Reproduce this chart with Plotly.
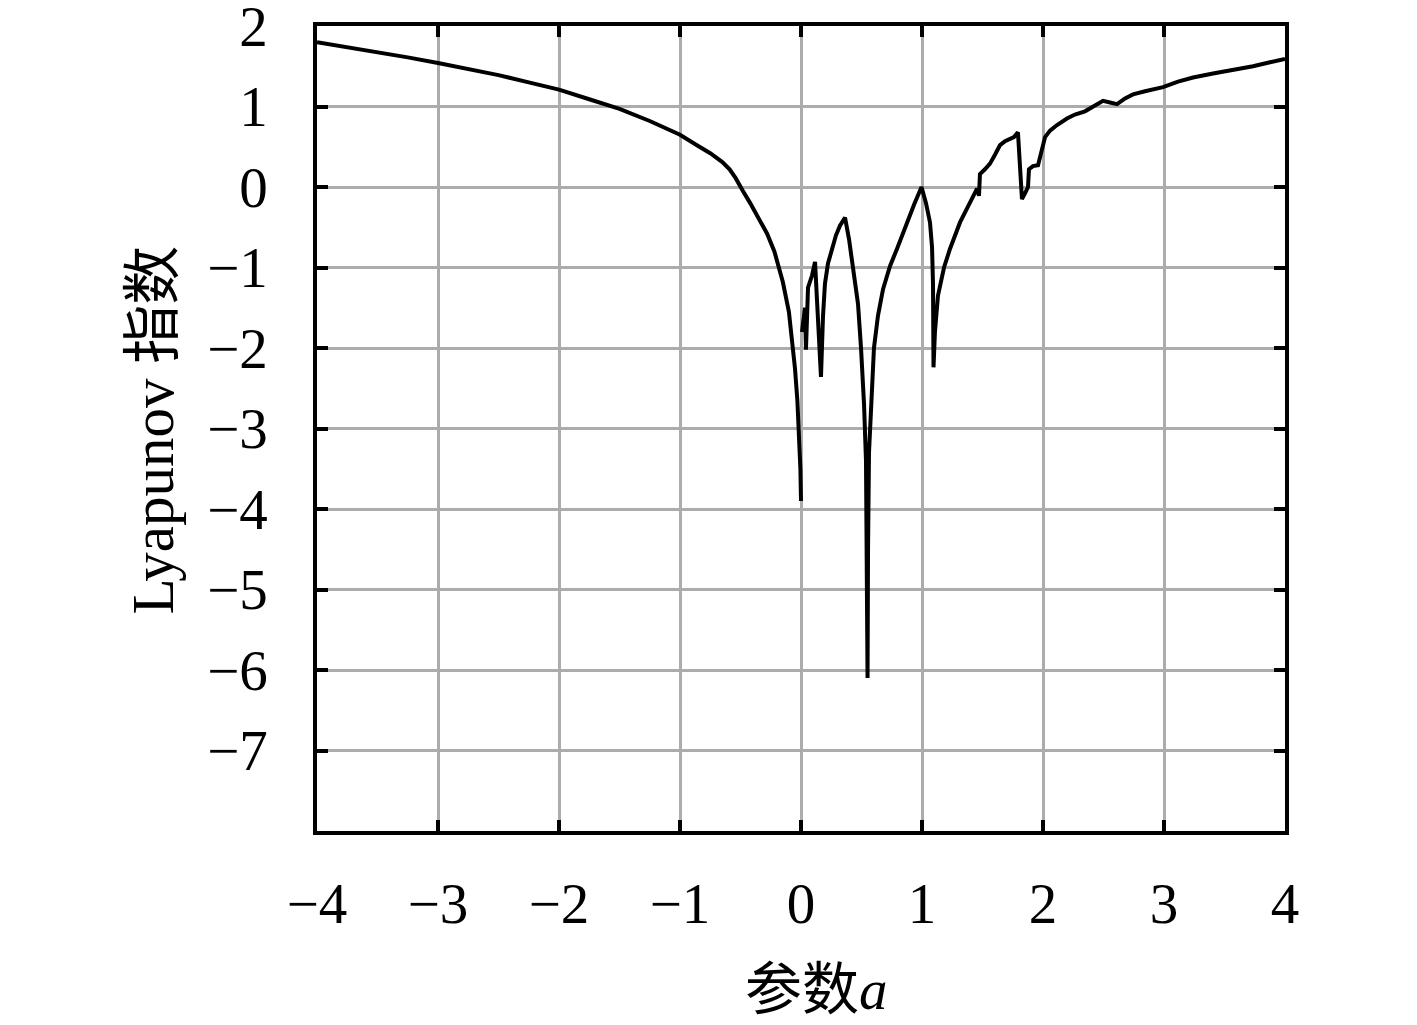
import plotly.graph_objects as go

# Branch 1: a in [-4, 0]
a1 = [-4.0, -3.75, -3.5, -3.25, -3.0, -2.75, -2.5, -2.25, -2.0, -1.75, -1.5, -1.25,
      -1.0, -0.85, -0.75, -0.65, -0.59, -0.54, -0.52, -0.50, -0.48, -0.42, -0.35,
      -0.28, -0.22, -0.15, -0.10, -0.07, -0.05, -0.03, -0.015, -0.005, 0.0]
l1 = [1.80, 1.74, 1.67, 1.61, 1.54, 1.47, 1.39, 1.30, 1.21, 1.09, 0.97, 0.82,
      0.65, 0.51, 0.42, 0.31, 0.22, 0.11, 0.05, 0.01, -0.05, -0.20, -0.38,
      -0.58, -0.80, -1.18, -1.55, -1.95, -2.25, -2.65, -3.1, -3.5, -3.9]

# Branch 2: a in (0, 4]
a2 = [0.008, 0.033, 0.041, 0.058, 0.091, 0.116, 0.132, 0.149, 0.165, 0.182, 0.198,
      0.223, 0.256, 0.289, 0.322, 0.364, 0.397, 0.430, 0.471, 0.496, 0.521, 0.537,
      0.545, 0.550, 0.554, 0.562, 0.603, 0.636, 0.678, 0.736, 0.793, 0.876, 0.934,
      0.996, 1.033, 1.066, 1.083, 1.091, 1.095, 1.107, 1.132, 1.182, 1.231, 1.314,
      1.397, 1.455, 1.471, 1.479, 1.52, 1.562, 1.603, 1.645, 1.686, 1.727, 1.76,
      1.793, 1.81, 1.826, 1.851, 1.876, 1.884, 1.917, 1.959, 1.992, 2.017, 2.058,
      2.116, 2.198, 2.264, 2.347, 2.43, 2.496, 2.554, 2.612, 2.678, 2.744, 2.843,
      2.926, 2.992, 3.116, 3.24, 3.405, 3.57, 3.736, 3.876, 4.0]
l2 = [-1.80, -1.50, -2.02, -1.25, -1.10, -0.93, -1.40, -1.90, -2.36, -1.60, -1.20,
      -0.95, -0.77, -0.60, -0.48, -0.38, -0.65, -0.98, -1.45, -2.0, -2.7, -3.4,
      -4.5, -6.1, -4.5, -3.3, -2.0, -1.6, -1.27, -0.98, -0.77, -0.44, -0.22,
      0.0, -0.2, -0.44, -0.75, -1.2, -2.24, -1.8, -1.35, -1.0, -0.77, -0.44,
      -0.19, -0.02, -0.11, 0.16, 0.22, 0.29, 0.40, 0.52, 0.57, 0.60, 0.62,
      0.68, 0.2, -0.15, -0.08, 0.0, 0.22, 0.26, 0.27, 0.45, 0.62, 0.70,
      0.77, 0.85, 0.90, 0.94, 1.02, 1.07, 1.05, 1.03, 1.10, 1.15, 1.19,
      1.22, 1.24, 1.31, 1.36, 1.41, 1.45, 1.50, 1.55, 1.59]

x_ticks = [-4, -3, -2, -1, 0, 1, 2, 3, 4]
x_labels = ["\u22124", "\u22123", "\u22122", "\u22121", "0", "1", "2", "3", "4"]
y_ticks = [2, 1, 0, -1, -2, -3, -4, -5, -6, -7]
y_labels = ["2", "1", "0", "\u22121", "\u22122", "\u22123", "\u22124", "\u22125", "\u22126", "\u22127"]

x_title = "参数<i>a</i>"
y_title = "Lyapunov 指数"

serif = "Liberation Serif, Noto Sans CJK SC, serif"

xs = a1 + [None] + a2
ys = l1 + [None] + l2

fig = go.Figure()
fig.add_trace(go.Scatter(x=xs, y=ys, mode="lines", connectgaps=False,
                         line=dict(color="black", width=4), showlegend=False))

axis_common = dict(
    showline=True, linecolor="black", linewidth=3.5, mirror="allticks",
    ticks="inside", ticklen=11, tickwidth=3.5, tickcolor="black",
    showgrid=True, gridcolor="rgb(172,172,172)", gridwidth=2.5,
    zeroline=False, ticklabeloverflow="allow", automargin=False,
    tickfont=dict(family=serif, size=57, color="black"),
)

fig.update_xaxes(range=[-4, 4], tickmode="array", tickvals=x_ticks, ticktext=x_labels,
                 ticklabelstandoff=20, **axis_common)
fig.update_yaxes(range=[-8, 2], tickmode="array", tickvals=y_ticks, ticktext=y_labels,
                 ticklabelstandoff=34, **axis_common)

fig.add_annotation(text=x_title, xref="paper", yref="paper", x=0.5165, y=-0.197,
                   xanchor="center", yanchor="middle", showarrow=False,
                   font=dict(family=serif, size=57, color="black"))
fig.add_annotation(text=y_title, xref="paper", yref="paper", x=-0.169, y=0.498,
                   xanchor="center", yanchor="middle", showarrow=False, textangle=-90,
                   font=dict(family=serif, size=59, color="black"))

fig.update_layout(
    width=1417, height=1025,
    margin=dict(l=309, r=140, t=18, b=202, autoexpand=False),
    paper_bgcolor="white", plot_bgcolor="white",
)

fig.write_html("out.html")
